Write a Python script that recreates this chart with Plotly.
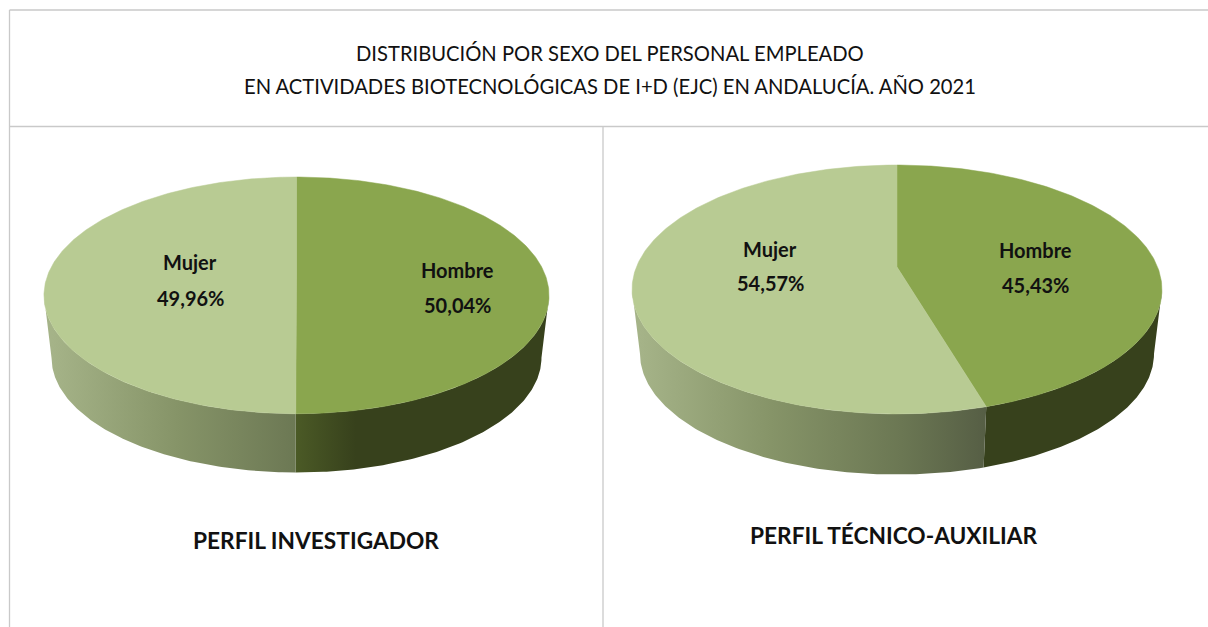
import numpy as np
import plotly.graph_objects as go

# ---- data ----
sexes = ["Hombre", "Mujer"]
investigador_pct = [50.04, 49.96]
tecnico_pct = [45.43, 54.57]
title_lines = ["DISTRIBUCIÓN POR SEXO DEL PERSONAL EMPLEADO",
               "EN ACTIVIDADES BIOTECNOLÓGICAS DE I+D (EJC) EN ANDALUCÍA. AÑO 2021"]
panel_names = ["PERFIL INVESTIGADOR", "PERFIL TÉCNICO-AUXILIAR"]

# ---- styling / layout ----
W, H = 1208, 627
TOP_COL = {"Hombre": "#8AA64E", "Mujer": "#B8CB93"}
FRAME = "#C9C9C9"
INK = "#111111"
K = 0.1806          # perspective of the tilted disc
BASE_SCALE = 0.97   # lower rim is a little smaller

pies = [
    dict(vals=investigador_pct, hx=296.5, hy=274, A=248.4, B=114.5, drop=63,
         labels={"Mujer": (190, 262, 298), "Hombre": (457, 270, 305)},
         name_xy=(316, 540)),
    dict(vals=tecnico_pct, hx=897, hy=267, A=260.6, B=120.4, drop=65,
         labels={"Mujer": (770, 249, 283), "Hombre": (1035, 250, 285)},
         name_xy=(894, 535)),
]


def rim(p, theta, scale=1.0, drop=0.0):
    u, v = np.sin(theta), np.cos(theta)
    w = 1 + K * v
    return (p["hx"] + scale * p["A"] * u / w,
            p["hy"] + drop - scale * p["B"] * v / w)


fig = go.Figure()

for p in pies:
    vals = p["vals"]
    split = 2 * np.pi * vals[0] / sum(vals)
    tang = np.arccos(-K)
    left = p["hx"] - p["A"] / np.sqrt(1 - K**2)
    width = 2 * p["A"] / np.sqrt(1 - K**2)
    split_x = p["hx"] + p["A"] * np.sin(split) / (1 + K * np.cos(split))

    # walls
    walls = {
        "Hombre": (tang, split),
        "Mujer": (split, 2 * np.pi - tang),
    }
    for s, (a, b) in walls.items():
        t = np.linspace(a, b, 120)
        x1, y1 = rim(p, t)
        x2, y2 = rim(p, t[::-1], BASE_SCALE, p["drop"])
        if s == "Mujer":
            grad = dict(type="horizontal", start=left + 8, stop=left + width * 0.72,
                        colorscale=[[0, "#A5B388"], [0.35, "#869468"], [0.7, "#6B7753"], [1, "#4F5640"]])
        else:
            dark_start = "#4B5A26" if vals[0] > 48 else "#37411C"
            grad = dict(type="horizontal", start=split_x, stop=split_x + 60,
                        colorscale=[[0, dark_start], [1, "#37411C"]])
        fig.add_trace(go.Scatter(x=np.r_[x1, x2], y=np.r_[y1, y2], mode="lines",
                                 line=dict(width=0), fill="toself", fillgradient=grad,
                                 hoverinfo="skip", showlegend=False))

    # top face
    spans = {"Hombre": (0, split), "Mujer": (split, 2 * np.pi)}
    for s, (a, b) in spans.items():
        t = np.linspace(a, b, 240)
        x, y = rim(p, t)
        fig.add_trace(go.Scatter(x=np.r_[p["hx"], x, p["hx"]], y=np.r_[p["hy"], y, p["hy"]],
                                 mode="lines", line=dict(width=0.5, color=TOP_COL[s]),
                                 fill="toself", fillcolor=TOP_COL[s],
                                 hoverinfo="skip", showlegend=False))

    # labels
    for s, v in zip(sexes, vals):
        lx, ly1, ly2 = p["labels"][s]
        for txt, yy in ((s, ly1), (f"{v:.2f}".replace(".", ",") + "%", ly2)):
            fig.add_annotation(x=lx, y=yy, text=f"<b>{txt}</b>", showarrow=False,
                               font=dict(family="Lato", size=20, color=INK))

for name, p in zip(panel_names, pies):
    fig.add_annotation(x=p["name_xy"][0], y=p["name_xy"][1], text=f"<b>{name}</b>", showarrow=False,
                       font=dict(family="Lato", size=22.7, color=INK))

for line, yy in zip(title_lines, (53, 86)):
    fig.add_annotation(x=609.5, y=yy, text=line, showarrow=False,
                       font=dict(family="Lato", size=20.2, color=INK))

for (x0, y0, x1, y1) in [(9.5, 10, W, 10), (9.5, 126.5, W, 126.5), (9.5, 10, 9.5, H), (603, 127, 603, H)]:
    fig.add_shape(type="line", x0=x0, y0=y0, x1=x1, y1=y1, line=dict(color=FRAME, width=1.3), layer="below")

fig.update_layout(width=W, height=H, margin=dict(l=0, r=0, t=0, b=0), autosize=False,
                  paper_bgcolor="white", plot_bgcolor="white", showlegend=False,
                  xaxis=dict(range=[0, W], visible=False, fixedrange=True),
                  yaxis=dict(range=[H, 0], visible=False, fixedrange=True))

fig.write_html("out.html", config=dict(displayModeBar=False),
               post_script="document.body.style.margin='0';document.body.style.overflow='hidden';")
